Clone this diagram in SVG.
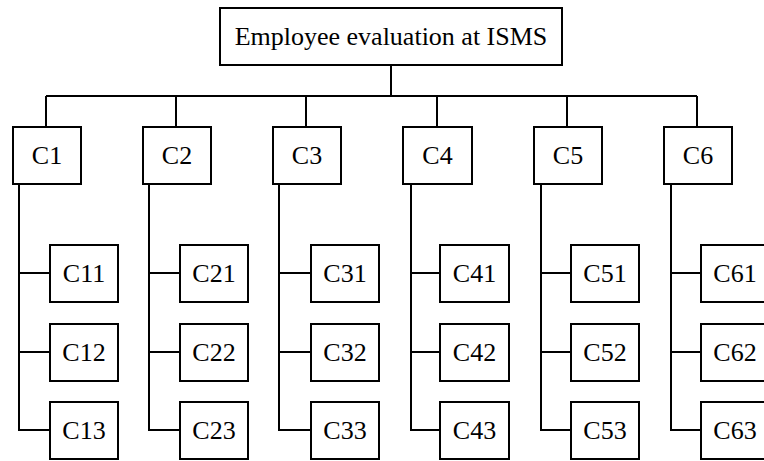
<svg xmlns="http://www.w3.org/2000/svg" width="764" height="461" viewBox="0 0 764 461">
<style>
rect{fill:#fff;stroke:#000;stroke-width:2}
text{font-family:"Liberation Serif","Times New Roman",serif;font-size:26px;fill:#000;text-anchor:middle}
#connectors path{fill:none;stroke:#000;stroke-width:2}
</style>
<rect x="0" y="0" width="764" height="461" style="stroke:none"/>
<g id="connectors">
<path d="M391 65V96M46 96H697M46 96V127M176 96V127M306 96V127M437 96V127M567 96V127M697 96V127"/>
<path d="M19 184V430H50M19 273H50M19 352H50"/>
<path d="M149 184V430H180M149 273H180M149 352H180"/>
<path d="M279 184V430H311M279 273H311M279 352H311"/>
<path d="M411 184V430H440M411 273H440M411 352H440"/>
<path d="M541 184V430H571M541 273H571M541 352H571"/>
<path d="M671 184V430H701M671 273H701M671 352H701"/>
</g>
<g id="root"><rect x="220" y="8" width="342" height="57"/><text x="391" y="45">Employee evaluation at ISMS</text></g>
<g id="C1"><rect x="13" y="127" width="68" height="57"/><text x="47" y="164">C1</text></g>
<g id="C2"><rect x="143" y="127" width="68" height="57"/><text x="177" y="164">C2</text></g>
<g id="C3"><rect x="273" y="127" width="68" height="57"/><text x="307" y="164">C3</text></g>
<g id="C4"><rect x="403" y="127" width="69" height="57"/><text x="437.5" y="164">C4</text></g>
<g id="C5"><rect x="534" y="127" width="68" height="57"/><text x="568" y="164">C5</text></g>
<g id="C6"><rect x="664" y="127" width="68" height="57"/><text x="698" y="164">C6</text></g>
<g id="C11"><rect x="50" y="245" width="68" height="57"/><text x="84" y="282">C11</text></g>
<g id="C12"><rect x="50" y="324" width="68" height="57"/><text x="84" y="361">C12</text></g>
<g id="C13"><rect x="50" y="402" width="68" height="57"/><text x="84" y="439">C13</text></g>
<g id="C21"><rect x="180" y="245" width="68" height="57"/><text x="214" y="282">C21</text></g>
<g id="C22"><rect x="180" y="324" width="68" height="57"/><text x="214" y="361">C22</text></g>
<g id="C23"><rect x="180" y="402" width="68" height="57"/><text x="214" y="439">C23</text></g>
<g id="C31"><rect x="311" y="245" width="68" height="57"/><text x="345" y="282">C31</text></g>
<g id="C32"><rect x="311" y="324" width="68" height="57"/><text x="345" y="361">C32</text></g>
<g id="C33"><rect x="311" y="402" width="68" height="57"/><text x="345" y="439">C33</text></g>
<g id="C41"><rect x="440" y="245" width="69" height="57"/><text x="474.5" y="282">C41</text></g>
<g id="C42"><rect x="440" y="324" width="69" height="57"/><text x="474.5" y="361">C42</text></g>
<g id="C43"><rect x="440" y="402" width="69" height="57"/><text x="474.5" y="439">C43</text></g>
<g id="C51"><rect x="571" y="245" width="68" height="57"/><text x="605" y="282">C51</text></g>
<g id="C52"><rect x="571" y="324" width="68" height="57"/><text x="605" y="361">C52</text></g>
<g id="C53"><rect x="571" y="402" width="68" height="57"/><text x="605" y="439">C53</text></g>
<g id="C61"><rect x="701" y="245" width="68" height="57"/><text x="735" y="282">C61</text></g>
<g id="C62"><rect x="701" y="324" width="68" height="57"/><text x="735" y="361">C62</text></g>
<g id="C63"><rect x="701" y="402" width="68" height="57"/><text x="735" y="439">C63</text></g>
</svg>
